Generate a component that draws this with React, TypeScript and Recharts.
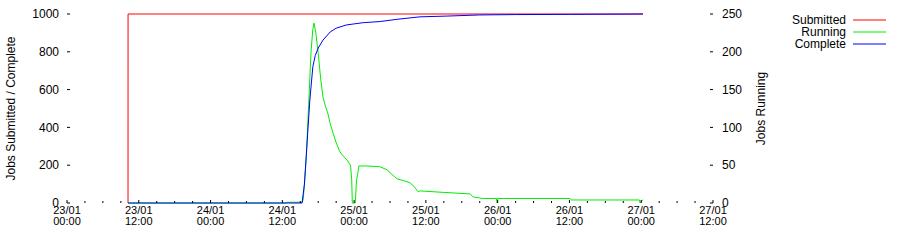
import { LineChart, Line, XAxis, YAxis } from "recharts";

// time is in hours since 23/01 00:00
const submittedT = [10.2, 10.21, 96.3];
const submittedV = [0, 1000, 1000];

const runningT = [
  10.2, 36.5, 36.8, 39.3, 39.5, 40.0, 40.4, 40.8, 41.1, 41.3, 41.6, 42.0, 42.4,
  42.8, 43.2, 43.6, 44.0, 44.5, 45.0, 45.6, 46.2, 46.8, 47.4, 47.6, 47.7, 48.2,
  48.4, 48.6, 48.8, 50.0, 52.3, 53.5, 54.3, 55.2, 56.5, 57.3, 58.0, 58.7, 59.0,
  63.0, 67.4, 67.9, 69.5, 71.8, 71.9, 72.0, 84.1, 84.3, 95.7, 95.8, 96.0, 96.3,
];
const runningV = [
  0, 0, 1, 1, 5, 60, 130, 200, 230, 238, 225, 198, 165, 140, 128, 119, 105, 92,
  80, 68, 62, 57, 50, 30, 0, 0, 30, 38, 49, 49, 48, 44, 38, 32, 29, 27, 22, 15,
  16, 14, 12, 8, 6, 6, 0, 6, 6, 4, 4, 0, 3, 4,
];

const completeT = [
  10.2, 39.3, 39.7, 40.0, 40.3, 40.6, 41.1, 41.5, 42.0, 42.8, 44.0, 45.0, 46.7,
  49.5, 52.3, 55.2, 59.0, 63.5, 69.0, 75.0, 84.0, 96.0, 96.3,
];
const completeV = [
  0, 0, 100, 250, 400, 545, 721, 780, 820, 862, 905, 925, 942, 954, 960, 972,
  985, 989, 995, 997, 998, 1000, 1000,
];

const hourTicks = [
  0, 3, 6, 9, 12, 15, 18, 21, 24, 27, 30, 33, 36, 39, 42, 45, 48, 51, 54, 57,
  60, 63, 66, 69, 72, 75, 78, 81, 84, 87, 90, 93, 96, 99, 102, 105, 108,
];
const majorTicks = [0, 12, 24, 36, 48, 60, 72, 84, 96, 108];
const dateLabels = ["23/01", "23/01", "24/01", "24/01", "25/01", "25/01", "26/01", "26/01", "27/01", "27/01"];
const clockLabels = ["00:00", "12:00", "00:00", "12:00", "00:00", "12:00", "00:00", "12:00", "00:00", "12:00"];

const leftTicks = [0, 200, 400, 600, 800, 1000];
const rightTicks = [0, 50, 100, 150, 200, 250];

const series = [
  { name: "Submitted", color: "#ff0000", axis: "left", t: submittedT, v: submittedV },
  { name: "Running", color: "#00ee00", axis: "right", t: runningT, v: runningV },
  { name: "Complete", color: "#0000ff", axis: "left", t: completeT, v: completeV },
];

const FONT = "'Liberation Sans', Arial, Helvetica, sans-serif";

const BottomTick = (props: any) => {
  const { x, y, payload } = props;
  const i = majorTicks.indexOf(payload.value);
  return (
    <g>
      <line x1={x} x2={x} y1={y} y2={y - (i >= 0 ? 3 : 2)} stroke="#000" />
      {i >= 0 && (
        <g fontSize={11} fill="#000" fontFamily={FONT} textAnchor="middle">
          <text x={x} y={y + 11}>{dateLabels[i]}</text>
          <text x={x} y={y + 22}>{clockLabels[i]}</text>
        </g>
      )}
    </g>
  );
};

const TopTick = (props: any) => {
  const { x, y, payload } = props;
  const major = majorTicks.includes(payload.value);
  return <line x1={x} x2={x} y1={y} y2={y + (major ? 3 : 2)} stroke="#000" />;
};

const LeftTick = (props: any) => {
  const { x, y, payload } = props;
  return (
    <g>
      <line x1={x} x2={x + 3} y1={y} y2={y} stroke="#000" />
      <text x={x - 8} y={y} dy="0.35em" textAnchor="end" fontSize={12} fill="#000" fontFamily={FONT}>
        {payload.value}
      </text>
    </g>
  );
};

const RightTick = (props: any) => {
  const { x, y, payload } = props;
  return (
    <g>
      <line x1={x} x2={x - 3} y1={y} y2={y} stroke="#000" />
      <text x={x + 9} y={y} dy="0.35em" textAnchor="start" fontSize={12} fill="#000" fontFamily={FONT}>
        {payload.value}
      </text>
    </g>
  );
};

export default function App() {
  return (
    <div style={{ position: "relative", width: 900, height: 252, background: "#fff" }}>
      <style>{"body{margin:0}"}</style>
      <LineChart
        width={900}
        height={252}
        margin={{ top: 14, right: 127, bottom: 9, left: 7 }}
      >
        <XAxis
          dataKey="t"
          type="number"
          domain={[0, 108]}
          ticks={hourTicks}
          height={40}
          axisLine={false}
          tickLine={false}
          tickSize={0}
          tickMargin={0}
          tick={BottomTick}
          interval={0}
        />
        <XAxis
          xAxisId="top"
          orientation="top"
          type="number"
          domain={[0, 108]}
          ticks={hourTicks}
          height={0}
          axisLine={{ stroke: "#000" }}
          tickLine={false}
          tickSize={0}
          tickMargin={0}
          tick={TopTick}
          interval={0}
        />
        <YAxis
          yAxisId="left"
          domain={[0, 1000]}
          ticks={leftTicks}
          width={60}
          axisLine={false}
          tickLine={false}
          tickSize={0}
          tickMargin={0}
          tick={LeftTick}
          interval={0}
          label={{
            value: "Jobs Submitted / Complete",
            angle: -90,
            position: "insideLeft",
            offset: 4,
            style: { textAnchor: "middle", fontSize: 12, fill: "#000", fontFamily: FONT },
          }}
        />
        <YAxis
          yAxisId="right"
          orientation="right"
          domain={[0, 250]}
          ticks={rightTicks}
          width={60}
          axisLine={false}
          tickLine={false}
          tickSize={0}
          tickMargin={0}
          tick={RightTick}
          interval={0}
          label={{
            value: "Jobs Running",
            angle: -90,
            position: "insideRight",
            offset: 12,
            style: { textAnchor: "middle", fontSize: 12, fill: "#000", fontFamily: FONT },
          }}
        />
        {series.map((s) => (
          <Line
            key={s.name}
            name={s.name}
            yAxisId={s.axis}
            data={s.t.map((t, i) => ({ t, v: s.v[i] }))}
            dataKey="v"
            type="linear"
            stroke={s.color}
            strokeWidth={1}
            dot={false}
            activeDot={false}
            isAnimationActive={false}
          />
        ))}
      </LineChart>
      <svg
        width={900}
        height={252}
        style={{ position: "absolute", left: 0, top: 0, pointerEvents: "none" }}
      >
        {series.map((s, i) => (
          <g key={s.name}>
            <text
              x={846}
              y={20 + i * 12}
              dy="0.35em"
              textAnchor="end"
              fontSize={12}
              fill="#000"
              fontFamily={FONT}
            >
              {s.name}
            </text>
            <line x1={853} x2={886} y1={20 + i * 12} y2={20 + i * 12} stroke={s.color} />
          </g>
        ))}
      </svg>
    </div>
  );
}
